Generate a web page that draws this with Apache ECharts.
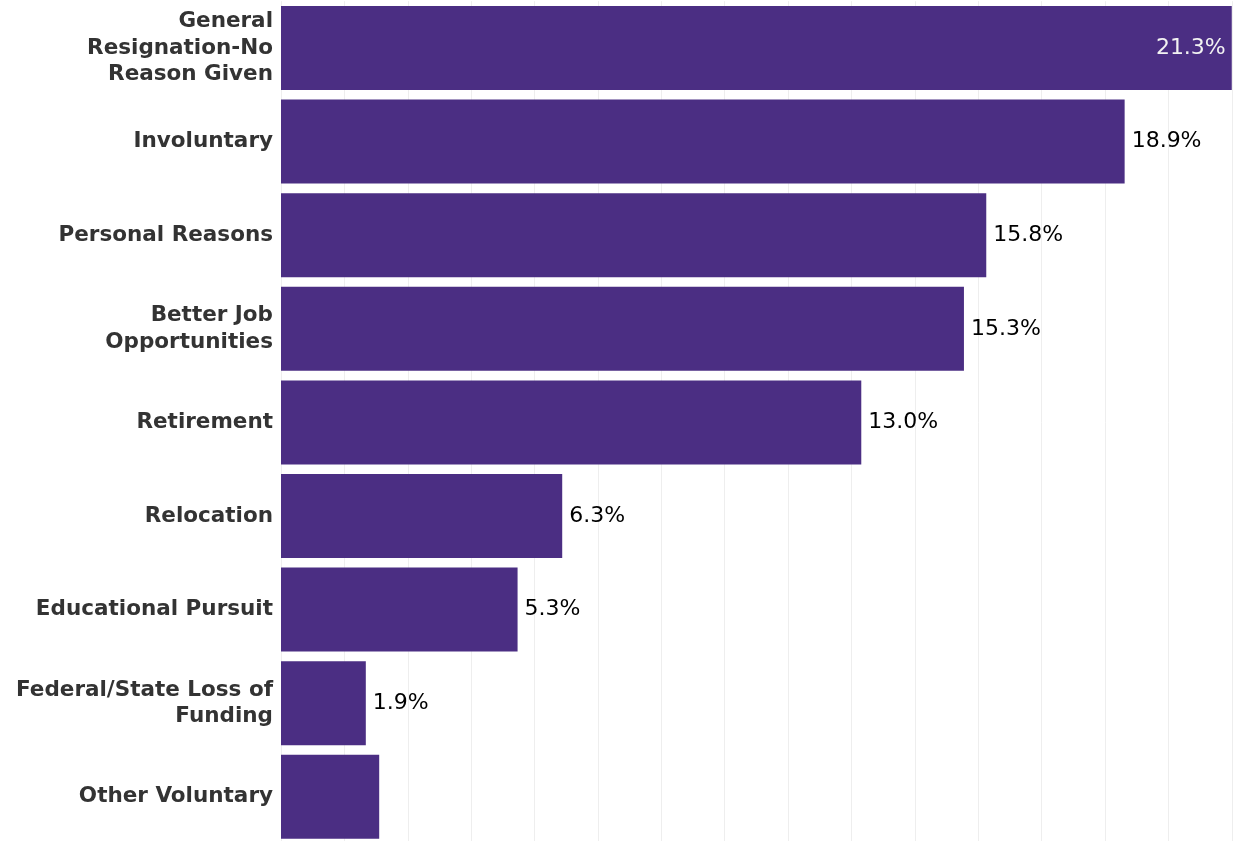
<!DOCTYPE html>
<html>
<head>
<meta charset="utf-8">
<style>
html,body{margin:0;padding:0;background:#fff;overflow:hidden;}
#chart{width:1234px;height:848px;}
</style>
<script src="https://cdn.jsdelivr.net/npm/echarts@6/dist/echarts.min.js"></script>
</head>
<body>
<div id="chart"></div>
<script>
const categories = [
  "General\nResignation-No\nReason Given",
  "Involuntary",
  "Personal Reasons",
  "Better Job\nOpportunities",
  "Retirement",
  "Relocation",
  "Educational Pursuit",
  "Federal/State Loss of\nFunding",
  "Other Voluntary"
];
const values = [21.3, 18.9, 15.8, 15.3, 13.0, 6.3, 5.3, 1.9, 2.2];
const showLabel = [true, true, true, true, true, true, true, true, false];

const chart = echarts.init(document.getElementById('chart'), null, {renderer: 'canvas'});
const data = values.map((v, i) => {
  const d = {value: v};
  if (i === 0) {
    d.label = {position: 'insideRight', distance: 6, color: '#f2f2f2'};
  }
  if (!showLabel[i]) d.label = {show: false};
  return d;
});
chart.setOption({
  animation: false,
  grid: {left: 281, width: 953, top: 1.2, height: 842.4, containLabel: false},
  xAxis: {
    type: 'value', min: 0, max: 21.35, interval: 1.42,
    axisLabel: {show: false}, axisLine: {show: false}, axisTick: {show: false},
    splitLine: {show: true, lineStyle: {color: '#eeeeee', width: 1}}
  },
  yAxis: {
    type: 'category', data: categories, inverse: true,
    axisLine: {show: false}, axisTick: {show: false},
    axisLabel: {
      margin: 8, fontFamily: 'DejaVu Sans', fontWeight: 'bold', fontSize: 21.5,
      color: '#333333', lineHeight: 26.5, align: 'right', padding: [5, 0, 0, 0]
    }
  },
  series: [{
    type: 'bar', data: data, barCategoryGap: '10.26%',
    itemStyle: {color: '#4B2E83'},
    label: {
      show: true, position: 'right', distance: 7,
      formatter: p => p.value.toFixed(1) + '%',
      fontFamily: 'DejaVu Sans', fontSize: 22, color: '#000000', padding: [4, 0, 0, 0]
    }
  }]
});
</script>
</body>
</html>
